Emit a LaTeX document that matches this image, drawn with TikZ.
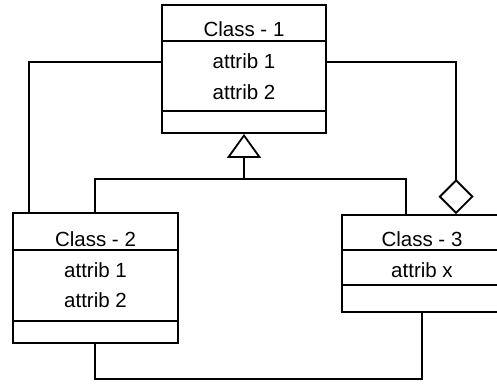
\documentclass[tikz,border=0pt]{standalone}
\usepackage{fontspec}
\setmainfont{Liberation Sans}
\usetikzlibrary{arrows.meta}
\begin{document}
\begin{tikzpicture}[x=1pt,y=-1pt,line width=1.8pt,
  classbox/.style={draw,rectangle,inner sep=0pt,line width=1.8pt},
  lbl/.style={anchor=base,inner sep=0pt,font=\fontsize{20.5}{24}\selectfont},
  divider/.style={line width=1.8pt}]
\useasboundingbox (0,0) rectangle (497,384);
\clip (0,0) rectangle (497,384);
% Class 1
\node[classbox,minimum width=164pt,minimum height=128pt] (c1) at (244,69) {};
\draw[divider] (c1.west |- 0,41) -- (c1.east |- 0,41);
\draw[divider] (c1.west |- 0,111) -- (c1.east |- 0,111);
\node[lbl] (c1t) at (244,36) {Class - 1};
\node[lbl] (c1a) at (244,68) {attrib 1};
\node[lbl] (c1b) at (244,99) {attrib 2};
% Class 2
\node[classbox,minimum width=165pt,minimum height=130pt] (c2) at (95.5,278) {};
\draw[divider] (c2.west |- 0,250) -- (c2.east |- 0,250);
\draw[divider] (c2.west |- 0,321) -- (c2.east |- 0,321);
\node[lbl] (c2t) at (95.5,246) {Class - 2};
\node[lbl] (c2a) at (95.5,277) {attrib 1};
\node[lbl] (c2b) at (95.5,307) {attrib 2};
% Class 3
\node[classbox,minimum width=162pt,minimum height=97pt] (c3) at (423,263.5) {};
\draw[divider] (c3.west |- 0,250) -- (c3.east |- 0,250);
\draw[divider] (c3.west |- 0,285) -- (c3.east |- 0,285);
\node[lbl] (c3t) at (422,246) {Class - 3};
\node[lbl] (c3a) at (422,277) {attrib x};
% association left
\draw ([yshift=7pt]c1.west) -| ([xshift=17pt]c2.north west);
% aggregation right
\draw[-{Diamond[open,length=35pt,width=35pt]}] ([yshift=7pt]c1.east) -| ([xshift=115pt]c3.north west);
% inheritance
\draw ([xshift=83pt]c2.north west) -- ++(0,-33) -| ([xshift=65pt]c3.north west);
\coordinate (hj) at (244,180);
\draw[-{Triangle[open,length=24pt,width=34pt]}] (hj) -- (c1.south);
% bottom association
\draw ([xshift=83pt]c2.south west) -- ++(0,35) -| ([xshift=81pt]c3.south west);
\end{tikzpicture}
\end{document}
